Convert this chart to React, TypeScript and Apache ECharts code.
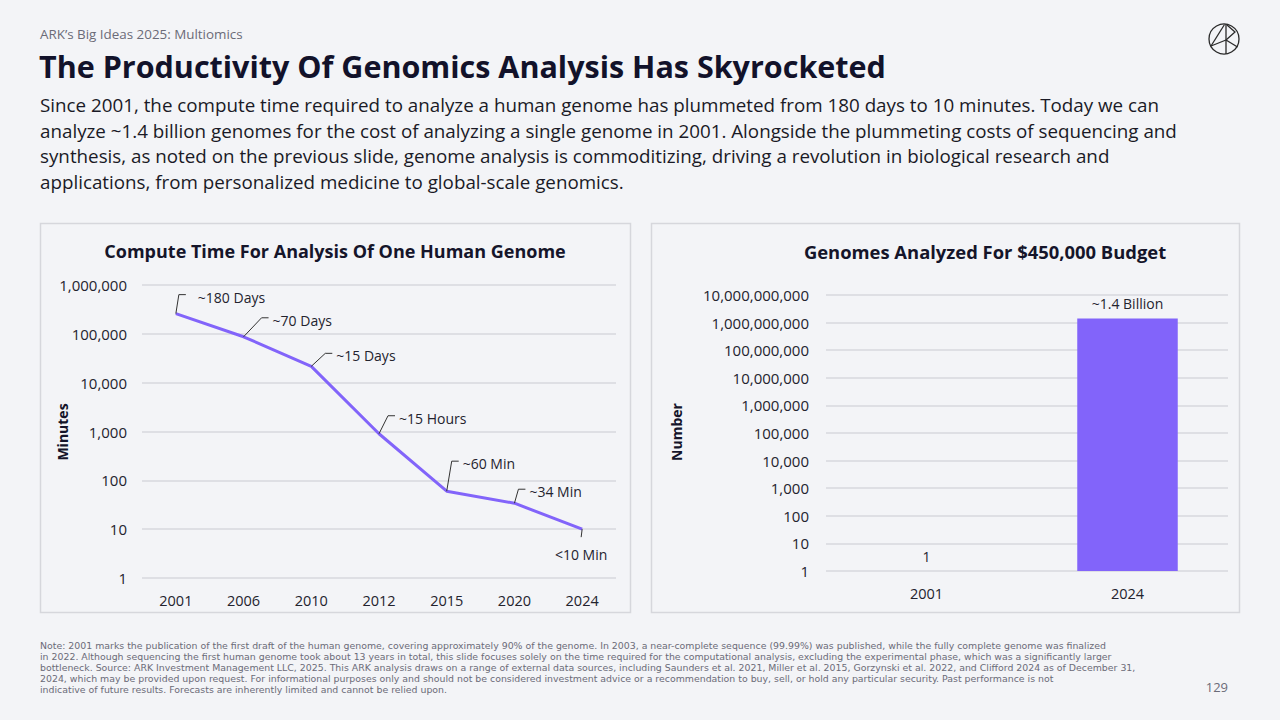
import React, { useEffect, useRef } from "react";
import * as echarts from "echarts";

// ---------- data ----------
const computeYears = ["2001", "2006", "2010", "2012", "2015", "2020", "2024"];
const computeMinutes = [259200, 87000, 21600, 900, 60, 34, 10];
const computeLabels = ["~180 Days", "~70 Days", "~15 Days", "~15 Hours", "~60 Min", "~34 Min", "<10 Min"];

const budgetYears = ["2001", "2024"];
const genomesAnalyzed = [1, 1400000000];
const budgetLabels = ["1", "~1.4 Billion"];

// ---------- text ----------
const kicker = "ARK\u2019s Big Ideas 2025: Multiomics";
const headline = "The Productivity Of Genomics Analysis Has Skyrocketed";
const bodyLines = [
  "Since 2001, the compute time required to analyze a human genome has plummeted from 180 days to 10 minutes. Today we can",
  "analyze ~1.4 billion genomes for the cost of analyzing a single genome in 2001. Alongside the plummeting costs of sequencing and",
  "synthesis, as noted on the previous slide, genome analysis is commoditizing, driving a revolution in biological research and",
  "applications, from personalized medicine to global-scale genomics.",
];
const noteLines = [
  "Note: 2001 marks the publication of the first draft of the human genome, covering approximately 90% of the genome. In 2003, a near-complete sequence (99.99%) was published, while the fully complete genome was finalized",
  "in 2022. Although sequencing the first human genome took about 13 years in total, this slide focuses solely on the time required for the computational analysis, excluding the experimental phase, which was a significantly larger",
  "bottleneck. Source: ARK Investment Management LLC, 2025. This ARK analysis draws on a range of external data sources, including Saunders et al. 2021, Miller et al. 2015, Gorzynski et al. 2022, and Clifford 2024 as of December 31,",
  "2024, which may be provided upon request. For informational purposes only and should not be considered investment advice or a recommendation to buy, sell, or hold any particular security. Past performance is not",
  "indicative of future results. Forecasts are inherently limited and cannot be relied upon.",
];
const leftTitle = "Compute Time For Analysis Of One Human Genome";
const rightTitle = "Genomes Analyzed For $450,000 Budget";
const leftAxisName = "Minutes";
const rightAxisName = "Number";
const pageNumber = "129";

// ---------- style ----------
const FONT = "'Open Sans', Lato, sans-serif";
const NOTE_FONT = "'DejaVu Sans', 'Open Sans', sans-serif";
const BG = "#f3f4f7";
const PURPLE = "#8264fa";
const GRID_LINE = "#dedfe4";
const TEXT = "#23232e";
// leader-line elbow offsets (px) relative to each point: [dx, dy, text gap]
const leaderOffsets: number[][] = [
  [3, -19, 12],
  [18, -19, 4],
  [14, -13, 4],
  [9, -18, 4],
  [5, -30, 4],
  [4, -14, 4],
  [-1, 8, 0],
];

const fmt = (v: number) => Math.round(v).toLocaleString("en-US");

export default function App() {
  const ref = useRef<HTMLDivElement>(null);

  useEffect(() => {
    if (!ref.current) return;
    const chart = echarts.init(ref.current, undefined, { renderer: "svg" });

    const graphics: any[] = [
      { type: "text", left: 40, top: 27, style: { text: kicker, font: `13.4px ${FONT}`, fill: "#6b6b78" } },
      { type: "text", left: 39, top: 50, style: { text: headline, font: `bold 30.5px ${FONT}`, fill: "#12122a" } },
      {
        type: "text",
        left: 40,
        top: 92,
        style: { text: bodyLines.join("\n"), font: `18.8px ${FONT}`, lineHeight: 25.7, fill: "#1a1a26" },
      },
      ...noteLines.map((t, i) => ({
        type: "text",
        x: 40,
        y: 645 + i * 11,
        style: { text: t, font: `9.4px ${NOTE_FONT}`, fill: "#6b6b78", verticalAlign: "middle" },
      })),
      {
        type: "text",
        right: 52,
        top: 680,
        style: { text: pageNumber, font: `13px ${FONT}`, fill: "#6b6b78" },
      },
      // panels
      {
        type: "rect",
        shape: { x: 40.5, y: 223.5, width: 590, height: 389 },
        style: { fill: "none", stroke: "#d6d7dc", lineWidth: 1.5 },
        silent: true,
      },
      {
        type: "rect",
        shape: { x: 651.5, y: 223.5, width: 588, height: 389 },
        style: { fill: "none", stroke: "#d6d7dc", lineWidth: 1.5 },
        silent: true,
      },
      {
        type: "text",
        x: 335,
        y: 251,
        style: { text: leftTitle, font: `bold 18px ${FONT}`, fill: "#15152a", align: "center", verticalAlign: "middle" },
      },
      {
        type: "text",
        x: 985,
        y: 251,
        style: { text: rightTitle, font: `bold 18.4px ${FONT}`, fill: "#15152a", align: "center", verticalAlign: "middle" },
      },
      {
        type: "text",
        x: 62,
        y: 432,
        rotation: Math.PI / 2,
        style: { text: leftAxisName, font: `bold 14px ${FONT}`, fill: "#15152a", align: "center", verticalAlign: "middle" },
      },
      {
        type: "text",
        x: 676,
        y: 432,
        rotation: Math.PI / 2,
        style: { text: rightAxisName, font: `bold 14px ${FONT}`, fill: "#15152a", align: "center", verticalAlign: "middle" },
      },
      // logo
      {
        type: "group",
        children: [
          { type: "circle", shape: { cx: 1224, cy: 39, r: 15 }, style: { fill: "none", stroke: "#2a2a2a", lineWidth: 1.3 } },
          { type: "line", shape: { x1: 1226, y1: 24, x2: 1226, y2: 54 }, style: { stroke: "#2a2a2a", lineWidth: 1.3 } },
          { type: "line", shape: { x1: 1224.5, y1: 24.5, x2: 1211, y2: 46 }, style: { stroke: "#2a2a2a", lineWidth: 1.3 } },
          {
            type: "polyline",
            shape: { points: [[1227, 25], [1235, 32], [1226, 40]] },
            style: { fill: "none", stroke: "#2a2a2a", lineWidth: 1.3 },
          },
          { type: "line", shape: { x1: 1226, y1: 40, x2: 1237.5, y2: 47 }, style: { stroke: "#2a2a2a", lineWidth: 1.3 } },
          { type: "line", shape: { x1: 1226, y1: 40, x2: 1211, y2: 46 }, style: { stroke: "#2a2a2a", lineWidth: 1.3 } },
        ],
      },
    ];

    const xLabel = { color: TEXT, fontSize: 14.5, fontFamily: FONT };
    const yLabel = { color: TEXT, fontSize: 15, fontFamily: FONT };

    const option: any = {
      animation: false,
      backgroundColor: BG,
      textStyle: { fontFamily: FONT },
      graphic: { elements: graphics },
      grid: [
        { left: 142, right: 664, top: 285, bottom: 142 },
        { left: 826, right: 52, top: 295, bottom: 149 },
      ],
      xAxis: [
        {
          type: "category",
          gridIndex: 0,
          data: computeYears,
          boundaryGap: true,
          axisLine: { show: false },
          axisTick: { show: false },
          axisLabel: { ...xLabel, margin: 15 },
        },
        {
          type: "category",
          gridIndex: 1,
          data: budgetYears,
          axisLine: { show: false },
          axisTick: { show: false },
          axisLabel: { ...xLabel, margin: 15 },
        },
      ],
      yAxis: [
        {
          type: "log",
          gridIndex: 0,
          logBase: 10,
          min: 1,
          max: 1000000,
          interval: 1,
          axisLine: { show: false },
          axisTick: { show: false },
          axisLabel: { ...yLabel, margin: 15, formatter: (v: number) => fmt(v) },
          splitLine: { lineStyle: { color: GRID_LINE, width: 2 } },
        },
        {
          type: "log",
          gridIndex: 1,
          logBase: 10,
          min: 1,
          max: 10000000000,
          interval: 1,
          axisLine: { show: false },
          axisTick: { show: false },
          axisLabel: { ...yLabel, margin: 17, formatter: (v: number) => fmt(v) },
          splitLine: { lineStyle: { color: GRID_LINE, width: 2 } },
        },
      ],
      series: [
        {
          type: "line",
          xAxisIndex: 0,
          yAxisIndex: 0,
          data: computeMinutes,
          symbol: "none",
          lineStyle: { color: PURPLE, width: 3 },
          z: 3,
        },
        {
          type: "custom",
          xAxisIndex: 0,
          yAxisIndex: 0,
          data: computeMinutes.map((v, i) => [i, v]),
          z: 4,
          renderItem: (params: any, api: any) => {
            const i = params.dataIndex;
            const p = api.coord([api.value(0), api.value(1)]);
            const [dx, dy, gap] = leaderOffsets[i];
            const ex = p[0] + dx;
            const ey = p[1] + dy;
            if (dy > 0) {
              return {
                type: "group",
                children: [
                  { type: "line", shape: { x1: p[0], y1: p[1], x2: ex, y2: ey }, style: { stroke: "#333", lineWidth: 1 } },
                  {
                    type: "text",
                    x: p[0] - 1,
                    y: p[1] + 25,
                    style: { text: computeLabels[i], fill: TEXT, font: `14px ${FONT}`, align: "center", verticalAlign: "middle" },
                  },
                ],
              };
            }
            return {
              type: "group",
              children: [
                {
                  type: "polyline",
                  shape: { points: [[p[0], p[1]], [ex, ey], [ex + 7, ey]] },
                  style: { stroke: "#333", lineWidth: 1, fill: "none" },
                },
                {
                  type: "text",
                  x: ex + 7 + gap,
                  y: ey + 2.5,
                  style: { text: computeLabels[i], fill: TEXT, font: `14px ${FONT}`, align: "left", verticalAlign: "middle" },
                },
              ],
            };
          },
        },
        {
          type: "bar",
          xAxisIndex: 1,
          yAxisIndex: 1,
          data: genomesAnalyzed,
          barWidth: "50%",
          itemStyle: { color: PURPLE },
          label: {
            show: true,
            position: "top",
            distance: 8,
            color: TEXT,
            fontSize: 14,
            fontFamily: FONT,
            formatter: (p: any) => budgetLabels[p.dataIndex],
          },
        },
      ],
    };

    chart.setOption(option);
    return () => chart.dispose();
  }, []);

  return <div ref={ref} style={{ position: "absolute", left: 0, top: 0, width: 1280, height: 720 }} />;
}
